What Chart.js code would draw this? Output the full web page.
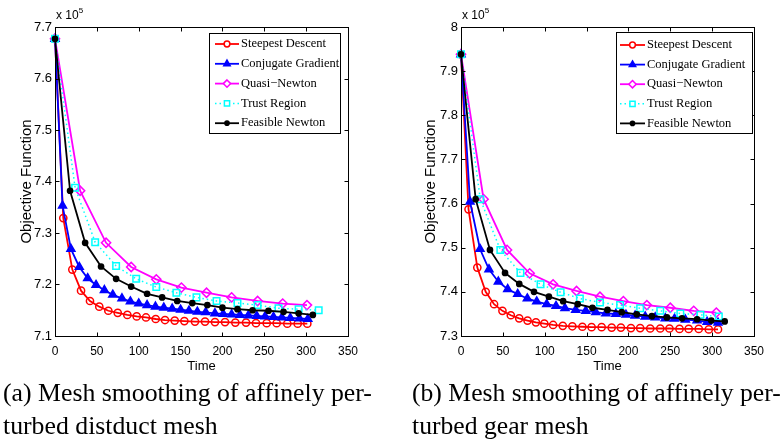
<!DOCTYPE html>
<html><head><meta charset="utf-8">
<script src="https://cdn.jsdelivr.net/npm/chart.js@4.4.1/dist/chart.umd.min.js"></script>
<style>
html,body{margin:0;padding:0;background:#fff;}
body{width:783px;height:442px;position:relative;overflow:hidden;}
canvas{position:absolute;top:0;}
#ca{left:0;}
#cb{left:400px;}
.exp{position:absolute;top:8px;font-family:"Liberation Sans",Arial,sans-serif;font-size:12px;color:#000;line-height:14px;white-space:nowrap;}
.exp sup{font-size:8px;vertical-align:top;position:relative;top:-4px;}
.cap{position:absolute;font-family:"Liberation Serif","Times New Roman",serif;font-size:25.5px;line-height:33px;white-space:nowrap;color:#000;}
</style></head>
<body>
<canvas id="ca" width="390" height="380"></canvas>
<canvas id="cb" width="383" height="380"></canvas>
<div class="exp" style="left:56px">x 10<sup>5</sup></div>
<div class="exp" style="left:462px">x 10<sup>5</sup></div>
<div class="cap" id="capA" style="left:3px;top:376px"><span class="l1">(a) Mesh smoothing of affinely per-</span><br>turbed distduct mesh</div>
<div class="cap" id="capB" style="left:412px;top:376px"><span class="l1">(b) Mesh smoothing of affinely per-</span><br>turbed gear mesh</div>
<script>
// ---------- data ----------
const seriesNames = ['Steepest Descent','Conjugate Gradient','Quasi\u2212Newton','Trust Region','Feasible Newton'];
const xTicks = [0,50,100,150,200,250,300,350];
const yTicksA = [7.1,7.2,7.3,7.4,7.5,7.6,7.7];
const yTicksB = [7.3,7.4,7.5,7.6,7.7,7.8,7.9,8];
const xTitle = 'Time';
const yTitle = 'Objective Function';

// (a) distduct mesh  (values in units of 1e5)
const tA_SD = [0,9.9,20.7,31.1,41.8,52.9,63.7,74.9,86.4,97.6,108.7,120.3,131.4,143.0,154.5,167.2,179.2,191.1,203.1,215.4,228.2,240.1,252.9,264.8,277.5,289.9,301.4];
const yA_SD = [7.677,7.329,7.229,7.188,7.168,7.157,7.149,7.145,7.141,7.138,7.136,7.133,7.131,7.130,7.129,7.128,7.128,7.127,7.127,7.126,7.126,7.125,7.125,7.125,7.124,7.124,7.124];
const tA_CG = [0,9,19,29,39,49,59,69,80,90,100,110,120,130,140,150,160,170,180,191,201,211,221,231,241,251,261,271,281,292,302];
const yA_CG = [7.677,7.353,7.269,7.234,7.212,7.199,7.189,7.180,7.173,7.167,7.163,7.160,7.157,7.155,7.153,7.151,7.149,7.147,7.146,7.144,7.143,7.142,7.141,7.140,7.139,7.138,7.137,7.136,7.135,7.134,7.133];
const tA_QN = [0,30,61,91,121,151,181,211,242,272,301];
const yA_QN = [7.677,7.382,7.281,7.234,7.210,7.194,7.184,7.175,7.168,7.163,7.160];
const tA_TR = [0,24,48,73,97,121,145,169,193,218,242,267,291,315];
const yA_TR = [7.677,7.388,7.282,7.236,7.211,7.195,7.184,7.175,7.168,7.164,7.160,7.154,7.152,7.150];
const tA_FN = [0,18,36,55,73,91,110,128,146,164,182,200,218,236,255,273,291,308];
const yA_FN = [7.677,7.382,7.281,7.235,7.211,7.196,7.182,7.175,7.168,7.164,7.160,7.155,7.152,7.150,7.149,7.147,7.144,7.141];

// (b) gear mesh
const tB_SD = [0,9,19.5,29.5,39.5,49.5,59.5,69.5,79.5,89.5,99.5,110,121.6,133,145,156,168,180,191,203,214,226,238,249,261,272,284,296,307];
const yB_SD = [7.938,7.587,7.455,7.400,7.372,7.357,7.347,7.340,7.335,7.331,7.328,7.325,7.323,7.322,7.321,7.320,7.320,7.319,7.319,7.318,7.318,7.317,7.317,7.317,7.316,7.316,7.316,7.315,7.315];
const tB_CG = [0,10.8,22.7,33.4,44.6,55.8,67.7,79.2,90.4,102.4,113.5,124.2,137,149,161,173,185,197,208,220,232,244,255,268,282,294,307];
const yB_CG = [7.938,7.604,7.497,7.451,7.423,7.406,7.395,7.385,7.378,7.372,7.368,7.363,7.359,7.357,7.354,7.351,7.350,7.348,7.346,7.344,7.342,7.340,7.339,7.337,7.335,7.332,7.330];
const tB_QN = [0,27,55,82,110,138,166,194,222,250,278,305];
const yB_QN = [7.938,7.610,7.495,7.442,7.417,7.402,7.389,7.379,7.370,7.364,7.357,7.353];
const tB_TR = [0,23,47,71,95,119,142,166,190,214,238,262,286,308];
const yB_TR = [7.938,7.610,7.495,7.443,7.417,7.399,7.385,7.376,7.370,7.363,7.357,7.351,7.348,7.344];
const tB_FN = [0,17.5,34.6,52.6,69.6,87.2,105,122,139.4,157,175,192,210,228,246,264,282,299,315];
const yB_FN = [7.938,7.610,7.495,7.443,7.418,7.400,7.389,7.379,7.372,7.364,7.359,7.354,7.349,7.345,7.342,7.340,7.338,7.335,7.333];

// ---------- styles ----------
const styles = [
  {color:'#ff0000', pointStyle:'circle',   radius:3.6, fill:false, dash:[],    lw:1.8, order:5},
  {color:'#0000ff', pointStyle:'triangle', radius:4.6, fill:true,  dash:[],    lw:1.8, order:4},
  {color:'#ff00ff', pointStyle:'rectRot',  radius:4.6, fill:false, dash:[],    lw:1.8, order:3},
  {color:'#00ffff', pointStyle:'rect',     radius:4.6, fill:false, dash:[1.5,3], lw:1.5, order:2},
  {color:'#000000', pointStyle:'circle',   radius:2.6, fill:true,  dash:[],    lw:1.8, order:1}
];

function makeDatasets(ts, ys){
  return ts.map((t,k)=>{
    const s = styles[k];
    return {
      label: seriesNames[k],
      data: t.map((x,i)=>({x:x, y:ys[k][i]})),
      borderColor: s.color, backgroundColor: s.color,
      borderWidth: s.lw, borderDash: s.dash,
      pointStyle: s.pointStyle, pointRadius: s.radius,
      pointBorderColor: s.color, pointBorderWidth: 1.5,
      pointBackgroundColor: s.fill ? s.color : 'rgba(0,0,0,0)',
      tension: 0, fill: false, clip: false, order: s.order,
      _legendFill: s.fill
    };
  });
}

function drawMarker(ctx, style, x, y, r){
  ctx.beginPath();
  if (style === 'circle') { ctx.arc(x, y, r, 0, Math.PI*2); }
  else if (style === 'triangle') {
    ctx.moveTo(x, y - r); ctx.lineTo(x + r*0.866, y + r*0.5); ctx.lineTo(x - r*0.866, y + r*0.5); ctx.closePath();
  } else if (style === 'rectRot') {
    ctx.moveTo(x, y - r); ctx.lineTo(x + r, y); ctx.lineTo(x, y + r); ctx.lineTo(x - r, y); ctx.closePath();
  } else {
    const s = r*0.7071; ctx.rect(x - s, y - s, 2*s, 2*s);
  }
}

const framePlugin = {
  id: 'frame',
  afterDatasetsDraw(chart, args, opts) {
    const {ctx, chartArea: a, scales} = chart;
    ctx.save();
    ctx.setLineDash([]);
    ctx.strokeStyle = '#000'; ctx.lineWidth = 1;
    const L = Math.round(a.left)+0.5, T = Math.round(a.top)+0.5, R = Math.round(a.right)+0.5, B = Math.round(a.bottom)+0.5;
    ctx.strokeRect(L, T, R-L, B-T);
    const tl = 4;
    ctx.beginPath();
    scales.x.ticks.forEach(t => {
      const p = Math.round(scales.x.getPixelForValue(t.value))+0.5;
      ctx.moveTo(p, B); ctx.lineTo(p, B - tl);
      ctx.moveTo(p, T); ctx.lineTo(p, T + tl);
    });
    scales.y.ticks.forEach(t => {
      const p = Math.round(scales.y.getPixelForValue(t.value))+0.5;
      ctx.moveTo(L, p); ctx.lineTo(L + tl, p);
      ctx.moveTo(R, p); ctx.lineTo(R - tl, p);
    });
    ctx.stroke();

    // legend
    const g = opts.box;
    ctx.fillStyle = '#fff';
    ctx.fillRect(g.x, g.y, g.w, g.h);
    ctx.strokeStyle = '#000'; ctx.lineWidth = 1;
    ctx.strokeRect(g.x+0.5, g.y+0.5, g.w, g.h);
    ctx.font = '12.5px "Liberation Serif", "Times New Roman", serif';
    ctx.textBaseline = 'middle'; ctx.textAlign = 'left';
    chart.data.datasets.forEach((ds, i) => {
      const y = g.row0 + i*g.rowH;
      ctx.strokeStyle = ds.borderColor; ctx.lineWidth = ds.borderWidth;
      ctx.setLineDash(ds.borderDash || []);
      ctx.beginPath(); ctx.moveTo(g.lx0, y); ctx.lineTo(g.lx1, y); ctx.stroke();
      ctx.setLineDash([]);
      const mx = (g.lx0 + g.lx1)/2;
      drawMarker(ctx, ds.pointStyle, mx, y, ds.pointRadius*0.8);
      ctx.fillStyle = ds._legendFill ? ds.borderColor : '#fff';
      ctx.fill();
      ctx.lineWidth = 1.5; ctx.strokeStyle = ds.borderColor; ctx.stroke();
      ctx.fillStyle = '#000';
      ctx.fillText(ds.label, g.tx, y);
    });
    ctx.restore();
  }
};

function makeChart(id, datasets, yTicks, yWidth, rightPad, titlePad, box){
  return new Chart(document.getElementById(id), {
    type: 'line',
    data: { datasets },
    plugins: [framePlugin],
    options: {
      responsive: false, maintainAspectRatio: false, animation: false,
      layout: { padding: { left: 0, top: 27, right: rightPad, bottom: 0 } },
      plugins: { legend: { display: false }, tooltip: { enabled: false }, frame: { box } },
      scales: {
        x: {
          type: 'linear', min: 0, max: 350,
          afterBuildTicks: s => { s.ticks = xTicks.map(v => ({value: v})); },
          afterFit: s => { s.height = 44; },
          grid: { display: false, drawTicks: false },
          border: { display: false },
          ticks: { color: '#000', padding: 8, maxRotation: 0, autoSkip: false,
                   font: { family: '"Liberation Sans", Arial, sans-serif', size: 12 },
                   callback: v => String(v) },
          title: { display: true, text: xTitle, color: '#000',
                   font: { family: '"Liberation Sans", Arial, sans-serif', size: 13 },
                   padding: { top: 0, bottom: 6 } }
        },
        y: {
          type: 'linear', min: yTicks[0], max: yTicks[yTicks.length-1],
          afterBuildTicks: s => { s.ticks = yTicks.map(v => ({value: v})); },
          afterFit: s => { s.width = yWidth; },
          grid: { display: false, drawTicks: false },
          border: { display: false },
          ticks: { color: '#000', padding: 3, autoSkip: false,
                   font: { family: '"Liberation Sans", Arial, sans-serif', size: 13 },
                   callback: v => String(v) },
          title: { display: true, text: yTitle, color: '#000',
                   font: { family: '"Liberation Sans", Arial, sans-serif', size: 15 },
                   padding: { top: titlePad, bottom: 0 } }
        }
      }
    }
  });
}

makeChart('ca',
  makeDatasets([tA_SD,tA_CG,tA_QN,tA_TR,tA_FN],[yA_SD,yA_CG,yA_QN,yA_TR,yA_FN]),
  yTicksA, 55, 42, 18,
  {x:209, y:33, w:131, h:100, row0:44, rowH:19.8, lx0:215, lx1:239, tx:241});

makeChart('cb',
  makeDatasets([tB_SD,tB_CG,tB_QN,tB_TR,tB_FN],[yB_SD,yB_CG,yB_QN,yB_TR,yB_FN]),
  yTicksB, 61, 29, 22,
  {x:216, y:32, w:136, h:101, row0:45, rowH:19.6, lx0:220, lx1:245, tx:247});

// fit caption width to the reference line length
['capA','capB'].forEach(id => {
  const el = document.getElementById(id);
  const l1 = el.querySelector('.l1');
  const w = l1.getBoundingClientRect().width;
  const fs = 25.5 * 369 / w;
  el.style.fontSize = fs.toFixed(2) + 'px';
});
</script>
</body></html>
